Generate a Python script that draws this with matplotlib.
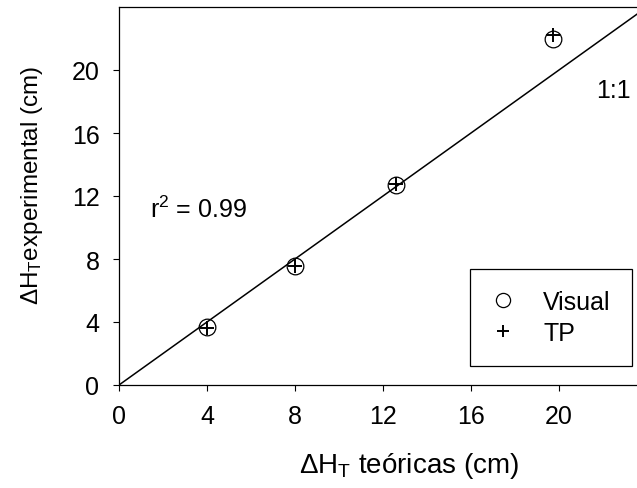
import matplotlib
matplotlib.use("Agg")
import matplotlib.pyplot as plt

plt.rcParams['font.family'] = ['Liberation Sans', 'DejaVu Sans']
plt.rcParams['mathtext.fontset'] = 'custom'
plt.rcParams['mathtext.rm'] = 'Liberation Sans'
plt.rcParams['mathtext.it'] = 'Liberation Sans:italic'
plt.rcParams['mathtext.bf'] = 'Liberation Sans:bold'

# Data
x_teoricas = [4.0, 8.02, 12.6, 19.73]
visual = [3.70, 7.54, 12.70, 21.97]
tp = [3.62, 7.57, 12.76, 22.22]
x_ticks = [0, 4, 8, 12, 16, 20]
y_ticks = [0, 4, 8, 12, 16, 20]

FS = 18

fig = plt.figure(figsize=(6.37, 4.89), dpi=100)
ax = fig.add_axes([119/637, 103/489, 26*22/637, 378/489])

ax.axline((0, 0), slope=1, color='black', lw=1.1, zorder=2)
ax.plot(x_teoricas, visual, linestyle='none', marker='o', markersize=12,
        markerfacecolor='none', markeredgecolor='black', markeredgewidth=0.9,
        label='Visual', zorder=3)
ax.plot(x_teoricas, tp, linestyle='none', marker='+', markersize=10,
        color='black', markeredgewidth=1.4, label='TP', zorder=4)

ax.set_xlim(0, 26)
ax.set_ylim(0, 24)
ax.set_xticks(x_ticks)
ax.set_yticks(y_ticks)
ax.tick_params(axis='both', direction='out', length=4.1, width=0.8, labelsize=FS)
ax.tick_params(axis='x', pad=9.6)
ax.tick_params(axis='y', pad=10)
for s in ax.spines.values():
    s.set_linewidth(0.9)

ax.set_xlabel('ΔH$_{\\rm T}$ teóricas (cm)', fontsize=20)
ax.set_ylabel('ΔH$_{\\rm T}$experimental (cm)', fontsize=17.5)
ax.xaxis.set_label_coords((409 - 119) / (26 * 22), -0.172)
ax.yaxis.set_label_coords(-0.129, 0.532)

ax.text(1.4, 11.2, 'r$^2$ = 0.99', fontsize=FS, ha='left', va='center')
ax.text(21.67, 18.7, '1:1', fontsize=FS, ha='left', va='center')

leg = ax.legend(loc='upper left', bbox_to_anchor=(470/637, 1 - 270/489),
                bbox_transform=fig.transFigure, fontsize=FS, frameon=True,
                fancybox=False, edgecolor='black', framealpha=1,
                borderpad=0.84, labelspacing=0.28, handlelength=0.96,
                handletextpad=1.12, markerscale=0.85, borderaxespad=0)
leg.get_frame().set_linewidth(0.9)

fig.savefig('out.png', dpi=100)
